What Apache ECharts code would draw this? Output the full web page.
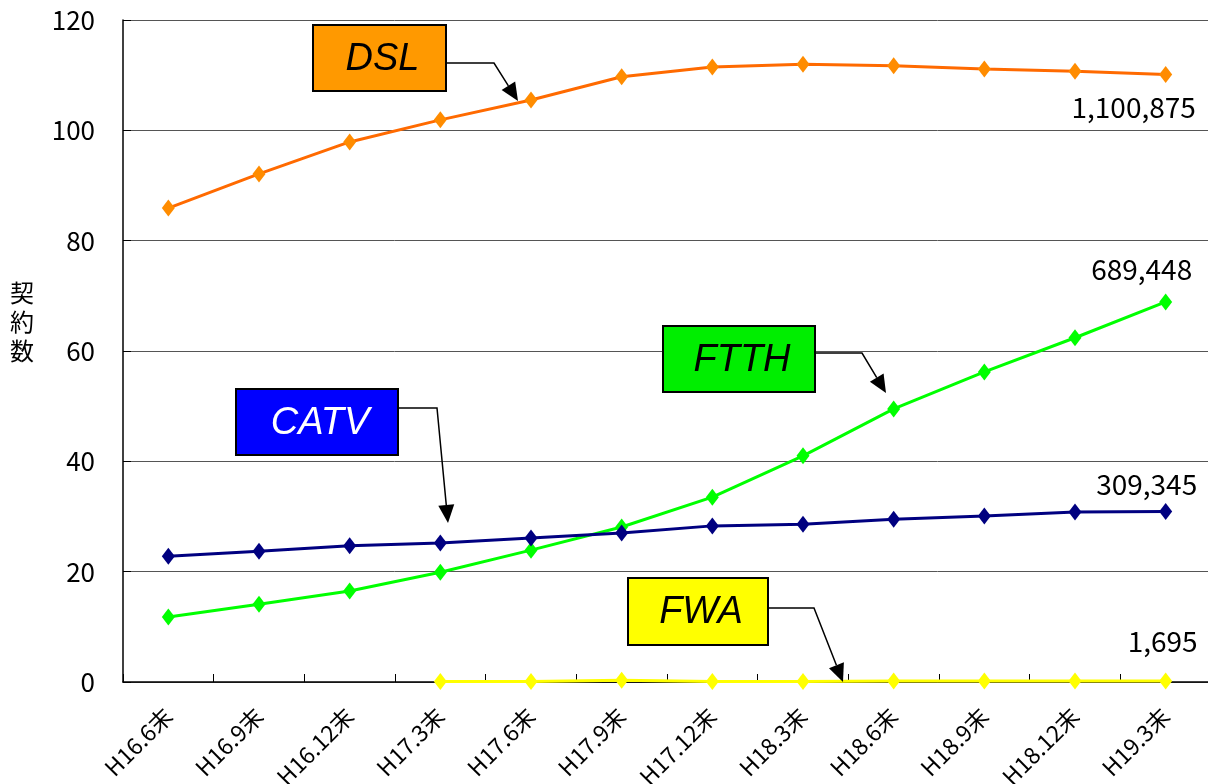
<!DOCTYPE html>
<html><head><meta charset="utf-8">
<script src="https://cdn.jsdelivr.net/npm/echarts@6/dist/echarts.min.js"></script>
<style>html,body{margin:0;padding:0;background:#fff}#c{width:1208px;height:784px}</style>
</head><body><div id="c"></div>
<script>
var categories = ['H16.6末','H16.9末','H16.12末','H17.3末','H17.6末','H17.9末','H17.12末','H18.3末','H18.6末','H18.9末','H18.12末','H19.3末'];
var dsl  = [85.9, 92.1, 97.9, 101.9, 105.5, 109.7, 111.5, 112.0, 111.7, 111.1, 110.7, 110.1];
var ftth = [11.8, 14.1, 16.5, 19.9, 23.9, 28.1, 33.5, 41.0, 49.5, 56.2, 62.4, 68.9];
var catv = [22.8, 23.7, 24.7, 25.2, 26.1, 27.0, 28.3, 28.6, 29.5, 30.1, 30.8, 30.9];
var fwa  = [null, null, null, 0.1, 0.1, 0.3, 0.1, 0.1, 0.2, 0.2, 0.2, 0.17];
var yTicks = [0, 20, 40, 60, 80, 100, 120];
var endLabels = {DSL:'1,100,875', FTTH:'689,448', CATV:'309,345', FWA:'1,695'};
var yName = '契約数';

var numFont = "'Noto Sans CJK JP',sans-serif";
var chart = echarts.init(document.getElementById('c'));

function mk(name, data, lineColor, symColor, off) {
  var d = data.map(function (v, i) {
    if (i === data.length - 1) {
      return {value: v, label: {show: true, position: 'inside', offset: off,
        formatter: endLabels[name], color: '#000', fontFamily: numFont, fontSize: 28}};
    }
    return v;
  });
  return {
    name: name, type: 'line', data: d, symbol: 'diamond', symbolSize: [13, 17],
    showAllSymbol: true, connectNulls: false,
    lineStyle: {color: lineColor, width: 3},
    itemStyle: {color: symColor, borderWidth: 0},
    label: {show: false}, emphasis: {disabled: true}, animation: false
  };
}

chart.setOption({
  animation: false,
  grid: {left: 123, right: -3, top: 20, bottom: 102, containLabel: false, outerBoundsMode: 'none'},
  xAxis: {
    type: 'category', data: categories, boundaryGap: true,
    axisLine: {lineStyle: {color: '#000', width: 1.5}},
    axisTick: {show: true, inside: true, length: 8, lineStyle: {color: '#000'}},
    axisLabel: {rotate: 45, margin: 30, color: '#000', fontFamily: numFont, fontSize: 23, interval: 0},
    splitLine: {show: false}
  },
  yAxis: {
    type: 'value', min: 0, max: 120, interval: 20,
    axisLine: {show: true, lineStyle: {color: '#000', width: 1.5}},
    axisTick: {show: true, inside: true, length: 8, lineStyle: {color: '#000'}},
    axisLabel: {margin: 28, color: '#000', fontFamily: numFont, fontSize: 26,
      formatter: function (v) { return yTicks.indexOf(v) >= 0 ? String(v) : ''; }},
    splitLine: {show: true, lineStyle: {color: '#555', width: 1}}
  },
  series: [
    mk('DSL', dsl, '#FF6A00', '#FF8C00', [-32, 33]),
    mk('FTTH', ftth, '#00FF00', '#00FF00', [-24, -33]),
    mk('CATV', catv, '#000080', '#000080', [-19, -27]),
    mk('FWA', fwa, '#FFFF00', '#FFFF00', [-3, -40])
  ]
});

function box(x, y, w, h, fill, text, tcolor) {
  return [
    {type: 'rect', shape: {x: x, y: y, width: w, height: h}, z: 100,
     style: {fill: fill, stroke: '#000', lineWidth: 2}},
    {type: 'text', x: x + w / 2 + 3, y: y + h / 2 + 1, z: 101,
     style: {text: text, fill: tcolor, font: "italic 38px 'Liberation Sans',Arial,sans-serif",
       align: 'center', verticalAlign: 'middle'}}
  ];
}
function arrow(pts) {
  var n = pts.length, a = pts[n - 2], b = pts[n - 1];
  var ang = Math.atan2(b[1] - a[1], b[0] - a[0]);
  var L = 18, W = 8;
  var bx = b[0] - L * Math.cos(ang), by = b[1] - L * Math.sin(ang);
  var px = -Math.sin(ang) * W, py = Math.cos(ang) * W;
  return [
    {type: 'polyline', shape: {points: pts.slice(0, n - 1).concat([[bx, by]])}, z: 99,
     style: {stroke: '#000', lineWidth: 1.5, fill: null}},
    {type: 'polygon', shape: {points: [[b[0], b[1]], [bx + px, by + py], [bx - px, by - py]]}, z: 99,
     style: {fill: '#000'}}
  ];
}
var g = [].concat(
  box(313, 25, 133, 66, '#FF9900', 'DSL', '#000'),
  arrow([[446, 63], [494, 63], [518, 101]]),
  box(236, 389, 162, 66, '#0000FF', 'CATV', '#fff'),
  arrow([[398, 408], [437, 408], [448, 523]]),
  box(663, 326, 152, 66, '#00EE00', 'FTTH', '#000'),
  arrow([[815, 353], [862, 353], [886, 393]]),
  box(628, 578, 140, 67, '#FFFF00', 'FWA', '#000'),
  arrow([[768, 608], [814, 608], [843, 682]]),
  [{type: 'text', x: 22, y: 322, z: 101,
    style: {text: yName.split('').join('\n'), fill: '#000', font: "24px 'Noto Sans CJK JP',sans-serif",
      align: 'center', verticalAlign: 'middle', lineHeight: 29}}]
);
chart.setOption({graphic: g});
</script></body></html>
